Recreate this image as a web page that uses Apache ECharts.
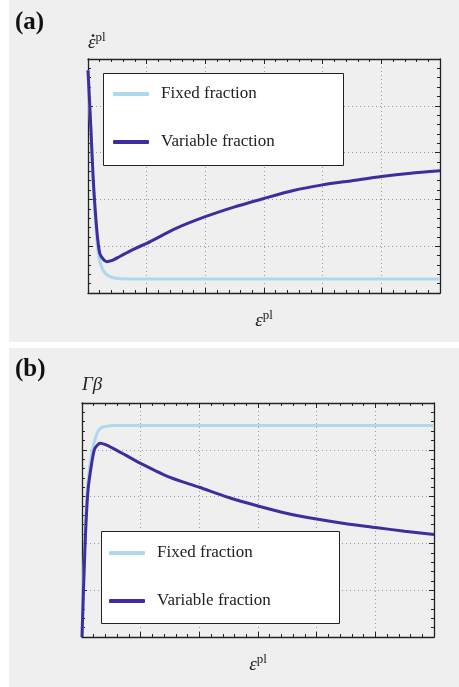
<!DOCTYPE html>
<html><head><meta charset="utf-8">
<script src="https://cdn.jsdelivr.net/npm/echarts@6/dist/echarts.min.js"></script>
<style>html,body{margin:0;padding:0;background:#fff;}#c{width:459px;height:687px;}</style>
</head><body><div id="c"></div>
<script>
// ---- data ----
const seriesNames = ['Fixed fraction', 'Variable fraction'];
const panelLabels = ['(a)', '(b)'];
// panel (a): plastic strain rate vs plastic strain
const aFixX = [0, 0.05, 0.09, 0.15, 0.2, 0.26, 0.32, 0.4, 0.5, 0.7, 1.0, 2.0, 3.0, 4.0, 5.0, 6.0];
const aFixY = [4.76, 3.4, 2.3, 1.15, 0.68, 0.48, 0.39, 0.34, 0.31, 0.30, 0.30, 0.30, 0.30, 0.30, 0.30, 0.30];
const aVarX = [0, 0.05, 0.09, 0.15, 0.2, 0.26, 0.32, 0.4, 0.54, 0.66, 0.8, 1.0, 1.5, 2.0, 2.5, 3.0, 3.5, 4.0, 4.5, 5.0, 5.5, 6.0];
const aVarY = [4.76, 3.5, 2.41, 1.35, 0.85, 0.72, 0.67, 0.69, 0.78, 0.86, 0.95, 1.06, 1.38, 1.63, 1.84, 2.02, 2.19, 2.31, 2.40, 2.49, 2.56, 2.61];
// panel (b): Gamma*beta vs plastic strain
const bFixX = [0, 0.05, 0.1, 0.17, 0.25, 0.31, 0.4, 0.55, 1.0, 2.0, 3.0, 4.0, 5.0, 6.0];
const bFixY = [0, 2.1, 3.3, 3.96, 4.33, 4.46, 4.5, 4.52, 4.52, 4.52, 4.52, 4.52, 4.52, 4.52];
const bVarX = [0, 0.05, 0.1, 0.17, 0.22, 0.31, 0.4, 0.53, 0.75, 1.0, 1.5, 2.0, 2.5, 3.0, 3.5, 4.0, 4.5, 5.0, 5.5, 6.0];
const bVarY = [0, 1.9, 3.1, 3.75, 4.03, 4.14, 4.11, 4.03, 3.88, 3.71, 3.41, 3.2, 2.98, 2.8, 2.64, 2.52, 2.42, 2.34, 2.26, 2.19];
const xMin = 0, xMax = 6, xStep = 1;
const yMin = 0, yMax = 5, yStep = 1;

const pairs = (xs, ys) => xs.map((x, i) => [x, ys[i]]);
const cFix = '#acd9ec', cVar = '#3c2e9e';
const serif = '"Liberation Serif", "DejaVu Serif", serif';

const grids = [
  {left: 88, top: 59, right: 19, bottom: 394},
  {left: 82, top: 403, right: 25, bottom: 50}
];
const xAxes = [], yAxes = [];
const nameRich = {
  e: {fontFamily: serif, fontStyle: 'italic', fontSize: 19, color: '#222'},
  s: {fontFamily: serif, fontSize: 13, color: '#222', padding: [0, 0, 10, 0]},
  g: {fontFamily: serif, fontStyle: 'italic', fontSize: 19, color: '#222'}
};
grids.forEach((g, gi) => {
  const frame = {show: true, onZero: false, lineStyle: {color: '#222', width: 1.3}};
  const base = {type: 'value', gridIndex: gi, min: xMin, max: xMax, interval: xStep,
    axisLabel: {show: false},
    axisTick: {show: true, inside: true, length: 5, lineStyle: {color: '#222'}},
    minorTick: {show: true, splitNumber: 5, length: 3, lineStyle: {color: '#222'}},
    axisLine: frame};
  xAxes.push(Object.assign({}, base, {position: 'bottom',
    splitLine: {show: true, lineStyle: {color: '#999', type: [1, 3], width: 1}},
    name: '{e|ε}{s|pl}', nameLocation: 'middle', nameGap: 16,
    nameTextStyle: {rich: nameRich}}));
  xAxes.push(Object.assign({}, base, {position: 'top', splitLine: {show: false}}));
  const ybase = {type: 'value', gridIndex: gi, min: yMin, max: yMax, interval: yStep,
    axisLabel: {show: false},
    axisTick: {show: true, inside: true, length: 5, lineStyle: {color: '#222'}},
    minorTick: {show: true, splitNumber: 5, length: 3, lineStyle: {color: '#222'}},
    axisLine: frame};
  yAxes.push(Object.assign({}, ybase, {position: 'left',
    splitLine: {show: true, lineStyle: {color: '#999', type: [1, 3], width: 1}},
    name: gi === 0 ? '{e|ε}{s|pl}' : '{g|Γβ}', nameLocation: 'end', nameGap: gi === 0 ? 5 : 9,
    nameTextStyle: {align: 'left', rich: nameRich}}));
  yAxes.push(Object.assign({}, ybase, {position: 'right', splitLine: {show: false}}));
});

const mk = (name, data, gi, color) => ({
  type: 'line', name, data, xAxisIndex: gi * 2, yAxisIndex: gi * 2,
  showSymbol: false, symbol: 'none', smooth: 0.25,
  lineStyle: {color, width: 3}, itemStyle: {color}, z: 3, silent: true
});

const legendCommon = {
  orient: 'vertical', icon: 'roundRect', itemWidth: 36, itemHeight: 4, itemGap: 28,
  textStyle: {fontFamily: serif, fontSize: 17, color: '#222', lineHeight: 20, padding: [0, 0, 0, 7]},
  data: seriesNames, selectedMode: false, z: 12, padding: 0
};

const option = {
  animation: false,
  backgroundColor: '#ffffff',
  graphic: [
    {type: 'rect', shape: {x: 9, y: 0, width: 450, height: 342}, style: {fill: '#efefef'}, z: -10, silent: true},
    {type: 'rect', shape: {x: 9, y: 348, width: 450, height: 339}, style: {fill: '#efefef'}, z: -10, silent: true},
    {type: 'text', left: 15, top: 10, style: {text: panelLabels[0], font: 'bold 25px ' + serif, fill: '#111'}, z: 10},
    {type: 'text', left: 15, top: 357, style: {text: panelLabels[1], font: 'bold 25px ' + serif, fill: '#111'}, z: 10},
    // overdot of the rate symbol on the (a) vertical-axis name
    {type: 'text', left: 90, top: 33, style: {text: '˙', font: 'bold 18px ' + serif, fill: '#222'}, z: 10},
    {type: 'rect', shape: {x: 103.5, y: 73.5, width: 240, height: 92}, style: {fill: '#fff', stroke: '#222', lineWidth: 1}, z: 10, silent: true},
    {type: 'rect', shape: {x: 101.5, y: 531.5, width: 238, height: 92}, style: {fill: '#fff', stroke: '#222', lineWidth: 1}, z: 10, silent: true}
  ],
  grid: grids,
  xAxis: xAxes,
  yAxis: yAxes,
  legend: [
    Object.assign({}, legendCommon, {left: 113, top: 84}),
    Object.assign({}, legendCommon, {left: 109, top: 543})
  ],
  series: [
    mk(seriesNames[0], pairs(aFixX, aFixY), 0, cFix),
    mk(seriesNames[1], pairs(aVarX, aVarY), 0, cVar),
    mk(seriesNames[0], pairs(bFixX, bFixY), 1, cFix),
    mk(seriesNames[1], pairs(bVarX, bVarY), 1, cVar)
  ]
};
const chart = echarts.init(document.getElementById('c'));
chart.setOption(option);
</script></body></html>
